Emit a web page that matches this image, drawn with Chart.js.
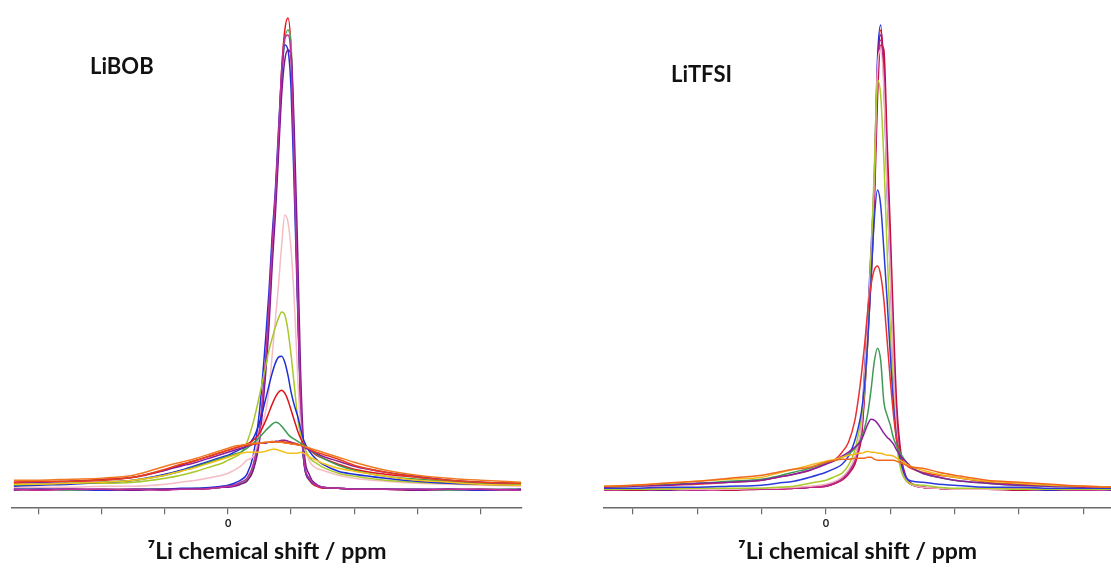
<!DOCTYPE html>
<html>
<head>
<meta charset="utf-8">
<script src="https://cdn.jsdelivr.net/npm/chart.js@4.4.1/dist/chart.umd.min.js"></script>
<style>
  html, body { margin: 0; padding: 0; background: #fff; }
  body { width: 1111px; height: 570px; position: relative; overflow: hidden; font-family: Lato, "Open Sans", sans-serif; }
  .panel { position: absolute; top: 0; height: 570px; }
  .label { position: absolute; font-family: Lato, sans-serif; font-weight: bold; font-size: 22px; color: #111; line-height: 1; }
</style>
</head>
<body>
<div class="panel" style="left:0;width:530px;"><canvas id="c1"></canvas></div>
<div class="panel" style="left:590px;width:521px;"><canvas id="c2"></canvas></div>
<div class="label" style="left:90px;top:55px;">LiBOB</div>
<div class="label" style="left:671px;top:63px;">LiTFSI</div>
<script>
// ---------- LiBOB panel (chemical shift in ppm, intensity a.u.) ----------
const libobShift = [6.8,6,5,4,3,2,1.5,1,0.5,0.2,0,-0.2,-0.4,-0.6,-0.8,-1.0,-1.2,-1.3,-1.4,-1.5,-1.6,-1.7,-1.8,-1.9,-2.0,-2.1,-2.2,-2.3,-2.4,-2.6,-2.8,-3.0,-3.5,-4,-5,-6,-7,-8,-9.3];
const libobRedNarrow     = [1,0,1,0,1,1,1,1,2,3, 4,5,7,10,22,55,130,180,245,290, 350,420,460,472,440,330,200,85,30,9, 4,2,2,1,1,0,1,0,1];
const libobGreenNarrow   = [1,1,0,1,1,1,1,2,2,3, 4,5,7,11,24,58,128,175,235,285, 345,410,450,460,445,335,205,90,32,10, 5,3,2,1,1,1,0,1,1];
const libobBlueNarrow    = [1,1,1,0,1,1,2,2,3,4, 5,7,10,16,35,80,155,200,255,300, 360,415,445,440,400,300,190,85,30,10, 5,3,2,1,1,1,1,0,1];
const libobPurpleNarrow  = [0,1,1,1,0,1,1,1,2,3, 3,4,6,9,20,50,120,165,225,275, 335,395,430,440,435,360,250,120,45,14, 6,3,2,1,1,0,1,1,0];
const libobMagentaNarrow = [1,0,1,1,1,0,1,1,2,3, 4,5,8,12,26,62,135,185,245,295, 355,420,452,455,430,320,200,90,33,11, 5,3,2,1,1,1,1,1,0];
const libobPink          = [3,3,3,4,4,6,8,10,13,15, 17,20,24,30,34,55,80,100,135,170, 205,245,275,268,240,190,120,65,45,28, 22,20,15,12,9,7,6,5,4];
const libobYellowGreen   = [6,6,7,7,8,12,15,19,24,27, 30,33,37,48,68,95,125,140,152,163, 172,178,175,160,135,105,75,55,44,32, 27,23,17,14,10,8,7,6,5];
const libobBlueMedium    = [4,5,6,8,10,16,20,25,30,33, 35,38,41,44,52,68,92,105,117,127, 133,134,128,115,98,85,75,62,50,38, 31,26,19,16,12,9,7,6,5];
const libobRedMedium     = [7,8,9,11,13,20,25,30,35,38, 40,42,44,46,50,57,70,78,86,93, 98,100,97,90,80,70,60,52,46,40, 35,32,26,21,16,13,10,8,7];
const libobGreenMedium   = [5,6,7,8,10,15,19,24,29,32, 34,36,38,42,47,53,60,63,66,68, 67,64,60,56,53,51,49,47,45,40, 36,32,25,20,14,11,9,7,6];
const libobOrangeBroad   = [10,10,11,12,15,24,28,32,37,40, 42,44,45,46,47,47,48,48,49,48, 48,48,47,47,46,46,45,45,44,42, 40,38,33,28,20,15,12,10,8];
const libobRedBroad      = [8,9,9,10,13,21,26,30,35,38, 40,42,44,45,46,47,48,48,48,48, 48,49,48,48,47,47,46,45,44,41, 38,36,31,25,18,13,10,8,7];
const libobPurpleBroad   = [8,8,9,10,13,20,24,28,33,36, 38,40,42,44,46,47,47,48,48,49, 49,50,50,49,48,47,46,45,43,40, 37,34,29,24,18,14,10,8,7];
const libobYellowBroad   = [6,6,7,8,10,15,19,23,28,31, 33,35,37,38,38,38,39,40,41,41, 40,39,38,37,37,37,37,38,37,33, 30,27,22,19,14,10,8,6,5];

// ---------- LiTFSI panel ----------
const litfsiShift = [6.9,6,5,4,3,2,1.5,1,0.5,0,-0.3,-0.5,-0.7,-0.9,-1.0,-1.1,-1.2,-1.3,-1.4,-1.5,-1.6,-1.7,-1.8,-1.9,-2.0,-2.1,-2.2,-2.35,-2.5,-2.7,-3.0,-3.5,-4,-5,-6,-7,-8,-8.86];
const litfsiBlueNarrow    = [1,0,1,1,1,1,2,2,3,5, 8,12,19,32,45,62,120,175,240,310, 430,465,410,300,220,125,60,22,10,5, 3,2,1,1,1,0,1,1];
const litfsiRedNarrow     = [0,1,1,1,1,1,1,2,3,4, 7,11,17,28,40,56,100,160,225,300, 410,460,425,330,240,140,70,26,11,5, 3,2,1,1,1,1,0,1];
const litfsiPurpleNarrow  = [1,1,0,1,1,1,2,2,3,5, 8,12,18,30,42,58,110,165,230,300, 420,455,420,320,235,135,65,24,10,5, 3,2,1,1,1,1,1,0];
const litfsiCrimsonNarrow = [1,0,1,1,0,1,1,2,3,4, 7,10,16,26,37,52,95,150,210,280, 390,445,440,350,260,165,85,32,13,6, 3,2,1,1,0,1,1,1];
const litfsiMagentaNarrow = [0,1,1,0,1,1,1,2,3,4, 7,11,17,29,41,57,105,160,225,295, 415,450,415,315,230,130,64,24,10,5, 3,2,1,1,1,1,0,1];
const litfsiYellowGreen   = [1,1,1,2,2,2,3,4,7,10, 14,17,25,40,55,72,100,150,230,320, 410,395,330,240,160,90,45,18,9,6, 5,3,2,2,1,1,1,1];
const litfsiPink          = [1,1,1,1,1,2,2,3,4,6, 9,13,20,33,46,64,115,170,235,310, 420,440,400,300,215,120,58,22,10,5, 3,2,1,1,1,1,1,1];
const litfsiBlueMedium    = [2,2,3,3,4,5,7,9,13,18, 22,26,34,50,62,78,105,150,210,270, 300,285,240,190,135,85,50,25,12,9, 8,6,5,3,3,2,2,2];
const litfsiRedMedium     = [3,4,5,6,8,10,13,16,20,27, 31,38,48,70,90,115,145,180,205,220, 224,215,190,150,110,75,50,32,25,21, 18,15,13,8,6,5,4,3];
const litfsiGreenMedium   = [3,4,6,7,9,11,14,18,22,27, 30,33,36,42,46,52,62,77,100,128, 142,130,88,75,65,52,44,35,28,22, 17,13,10,7,5,4,3,3];
const litfsiPurpleMedium  = [3,4,5,7,8,10,13,16,20,26, 30,34,38,43,46,50,58,66,71,70, 67,62,57,53,50,46,40,33,28,22, 17,13,10,7,5,4,3,3];
const litfsiYellowBroad   = [4,5,7,9,11,13,17,21,25,29, 31,33,35,36,37,37,38,39,38,38, 37,37,36,35,35,34,32,29,26,23, 20,16,13,9,7,5,4,3];
const litfsiOrangeBroad   = [4,5,7,9,12,15,18,21,23,28, 30,31,31,32,32,32,32,33,33,31, 30,30,30,30,30,30,29,27,25,23, 22,18,15,10,8,6,4,3];

const axisTitle = "\u2077Li chemical shift / ppm";

function series(xs, ys, color, width) {
  return {
    data: xs.map((x, i) => ({ x: x, y: ys[i] })),
    borderColor: color,
    borderWidth: width || 1.5,
    pointRadius: 0,
    fill: false,
    cubicInterpolationMode: 'monotone'
  };
}

function makeChart(id, datasets, xmin, xmax, padLeft, padRight) {
  return new Chart(document.getElementById(id), {
    type: 'line',
    data: { datasets: datasets },
    options: {
      responsive: true,
      maintainAspectRatio: false,
      animation: false,
      events: [],
      layout: { padding: { left: padLeft, right: padRight, top: 10, bottom: 5 } },
      plugins: { legend: { display: false }, tooltip: { enabled: false } },
      scales: {
        x: {
          type: 'linear',
          reverse: true,
          min: xmin,
          max: xmax,
          border: { display: true, color: '#6a6a6a', width: 1.5 },
          grid: { drawOnChartArea: false, drawTicks: true, tickLength: 6, color: '#6a6a6a', lineWidth: 1.2 },
          ticks: {
            stepSize: 2,
            includeBounds: false,
            autoSkip: false,
            maxRotation: 0,
            padding: 3,
            color: '#222',
            font: { family: 'Lato', weight: 'bold', size: 11 },
            callback: (v) => (v === 0 ? '0' : '')
          },
          title: {
            display: true,
            text: axisTitle,
            color: '#111',
            font: { family: 'Lato', weight: 'bold', size: 23 },
            padding: { top: 4, bottom: 0 }
          }
        },
        y: { display: false, min: -18, max: 480 }
      }
    }
  });
}

makeChart('c1', [
  series(libobShift, libobYellowBroad, '#f2c21a'),
  series(libobShift, libobOrangeBroad, '#f07a22'),
  series(libobShift, libobRedBroad, '#e8401c'),
  series(libobShift, libobPurpleBroad, '#8a1f9a'),
  series(libobShift, libobGreenMedium, '#3d9a55'),
  series(libobShift, libobRedMedium, '#e0141c'),
  series(libobShift, libobBlueMedium, '#1d2ed6'),
  series(libobShift, libobYellowGreen, '#a6c82a'),
  series(libobShift, libobPink, '#f6bcc4'),
  series(libobShift, libobMagentaNarrow, '#c0309a'),
  series(libobShift, libobPurpleNarrow, '#7a1a8e'),
  series(libobShift, libobBlueNarrow, '#2330d8'),
  series(libobShift, libobGreenNarrow, '#55a868'),
  series(libobShift, libobRedNarrow, '#e8121c')
], -9.33, 6.86, 12, 8);

makeChart('c2', [
  series(litfsiShift, litfsiOrangeBroad, '#f06a1e'),
  series(litfsiShift, litfsiYellowBroad, '#f2b81a'),
  series(litfsiShift, litfsiPurpleMedium, '#8c1f9c'),
  series(litfsiShift, litfsiGreenMedium, '#3f9a58'),
  series(litfsiShift, litfsiRedMedium, '#ea3030'),
  series(litfsiShift, litfsiBlueMedium, '#2a3adc'),
  series(litfsiShift, litfsiYellowGreen, '#a8cc2a'),
  series(litfsiShift, litfsiPink, '#f4b2c0'),
  series(litfsiShift, litfsiMagentaNarrow, '#c02890'),
  series(litfsiShift, litfsiCrimsonNarrow, '#c0103c'),
  series(litfsiShift, litfsiPurpleNarrow, '#7a1a90'),
  series(litfsiShift, litfsiRedNarrow, '#e8121c'),
  series(litfsiShift, litfsiBlueNarrow, '#2028d8')
], -8.86, 6.9, 14, 0);
</script>
</body>
</html>
